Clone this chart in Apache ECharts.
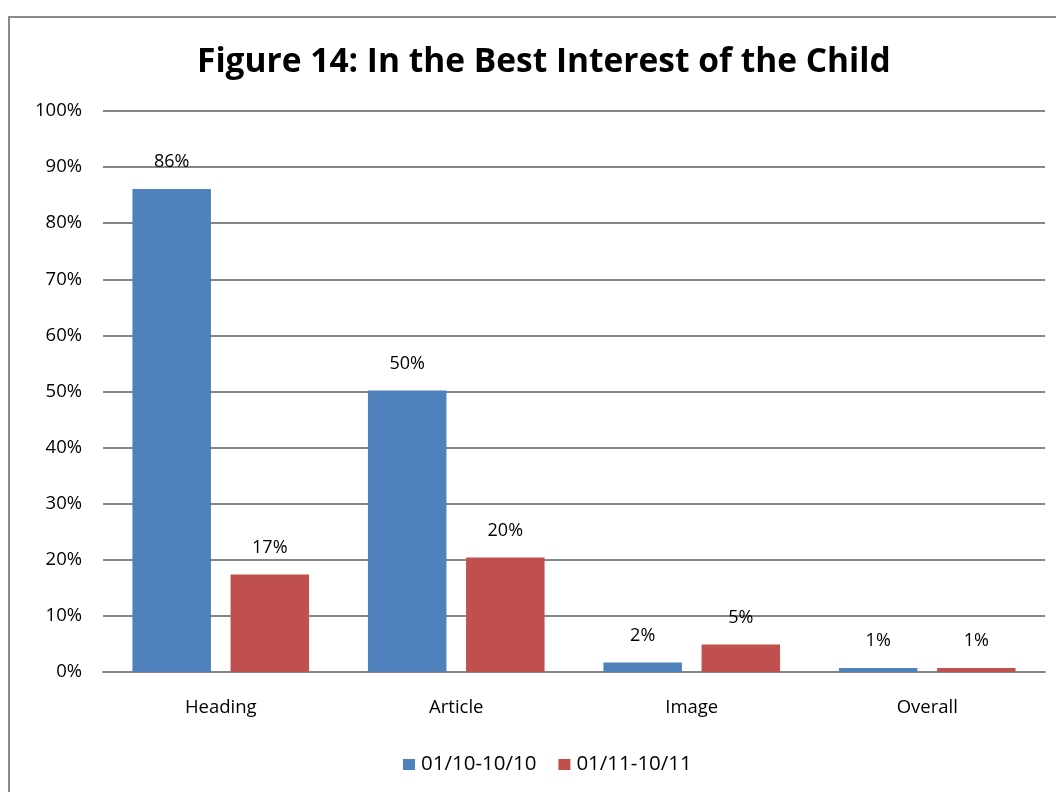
<!DOCTYPE html>
<html><head><meta charset="utf-8">
<script src="https://cdn.jsdelivr.net/npm/echarts@6/dist/echarts.min.js"></script>
<style>
html,body{margin:0;padding:0;background:#fff;overflow:hidden;}
#frame{position:absolute;left:8px;top:16px;width:1100px;height:900px;border-left:2px solid #8a8a8a;border-top:2px solid #8a8a8a;box-sizing:border-box;}
#chart{position:absolute;left:0;top:0;width:1056px;height:792px;}
</style></head>
<body>
<div id="frame"></div>
<div id="chart"></div>
<script>
const categories = ['Heading', 'Article', 'Image', 'Overall'];
const seriesNames = ['01/10-10/10', '01/11-10/11'];
const values2010 = [86.1, 50.2, 1.7, 0.7];
const values2011 = [17.4, 20.4, 4.9, 0.7];
const yTicks = [0, 10, 20, 30, 40, 50, 60, 70, 80, 90, 100];

const font = '"Open Sans", "Liberation Sans", sans-serif';
const chart = echarts.init(document.getElementById('chart'));
const labelCfg = {
  show: true, position: 'top', distance: 18,
  fontFamily: font, fontSize: 18, color: '#000',
  formatter: p => Math.round(p.value) + '%'
};
chart.setOption({
  animation: false,
  title: {
    text: 'Figure 14: In the Best Interest of the Child',
    left: 192, top: 40,
    textStyle: { fontFamily: font, fontWeight: 'bold', fontSize: 33.5, color: '#000' }
  },
  legend: {
    data: seriesNames, bottom: 12, left: 398,
    itemWidth: 12, itemHeight: 11, itemGap: 22, icon: 'rect',
    textStyle: { fontFamily: font, fontSize: 20.5, color: '#000', padding: [0, 0, 0, 1] }
  },
  grid: { left: 103, right: 11, top: 111, bottom: 120 },
  xAxis: {
    type: 'category', data: categories,
    axisLine: { lineStyle: { color: '#868686', width: 2 } },
    axisTick: { show: false },
    axisLabel: { fontFamily: font, fontSize: 18.5, color: '#000', margin: 26 }
  },
  yAxis: {
    type: 'value', min: yTicks[0], max: yTicks[yTicks.length - 1], interval: 10,
    axisLine: { show: false }, axisTick: { show: false },
    splitLine: { lineStyle: { color: '#868686', width: 2 } },
    axisLabel: { fontFamily: font, fontSize: 18.5, color: '#000', margin: 21, formatter: '{value}%' }
  },
  series: [
    { name: seriesNames[0], type: 'bar', data: values2010, barGap: '25%', barCategoryGap: '25%',
      itemStyle: { color: '#4f81bd' }, label: labelCfg },
    { name: seriesNames[1], type: 'bar', data: values2011,
      itemStyle: { color: '#c0504d' }, label: labelCfg }
  ]
});
</script>
</body></html>
